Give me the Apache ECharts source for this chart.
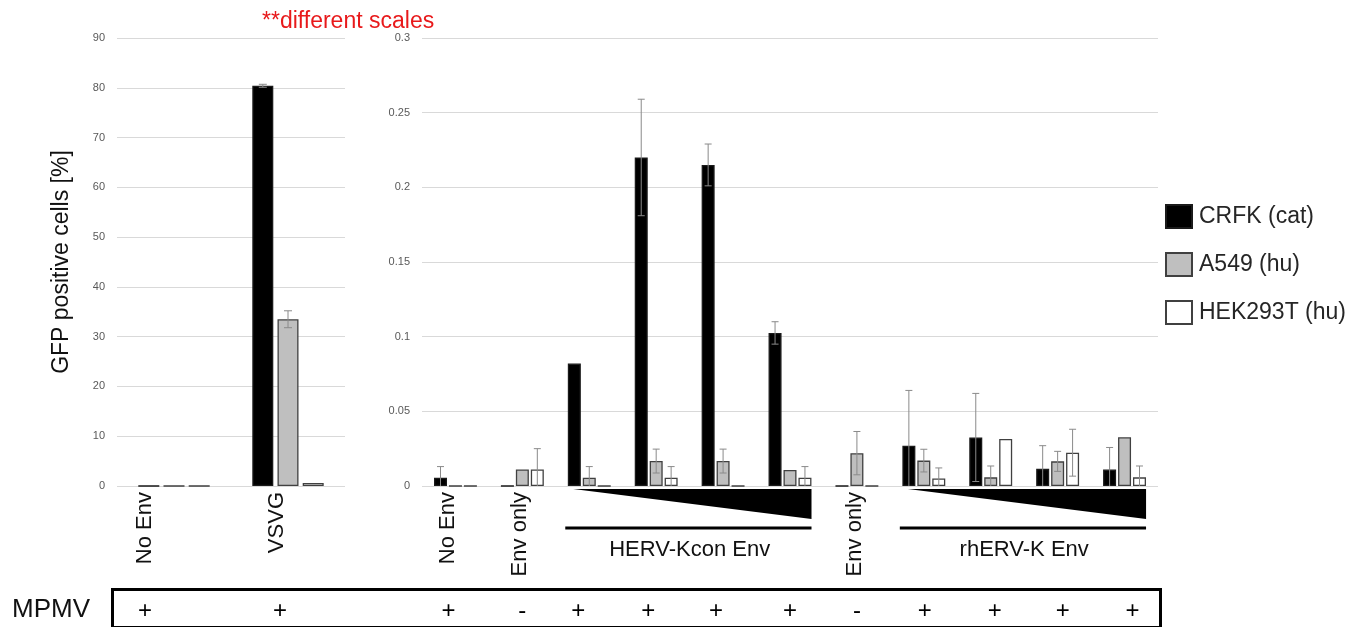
<!DOCTYPE html>
<html>
<head>
<meta charset="utf-8">
<script src="https://cdn.jsdelivr.net/npm/echarts@6/dist/echarts.min.js"></script>
<style>
html,body{margin:0;padding:0;background:#fff;}
#chart{width:1366px;height:627px;}
</style>
</head>
<body>
<div id="chart"></div>
<script>
// ---------- DATA ----------
const seriesNames = ['CRFK (cat)', 'A549 (hu)', 'HEK293T (hu)'];

const leftCategories = ['No Env', 'VSVG'];
const leftCRFK = [0, 80.4];
const leftCRFKErr = [null, 0.3];
const leftA549 = [0, 33.5];
const leftA549Err = [null, 1.7];
const leftHEK = [0, 0.6];
const leftHEKErr = [null, null];
const leftTicks = [0, 90, 10];

const rightCategories = ['No Env', 'Env only', '', '', '', '', 'Env only', '', '', '', ''];
const rightCRFK = [0.0055, 0, 0.082, 0.22, 0.215, 0.1025, 0, 0.027, 0.0325, 0.0115, 0.011];
const rightCRFKErr = [0.0075, null, null, 0.039, 0.014, 0.0075, null, 0.037, 0.0295, 0.0155, 0.0148];
const rightA549 = [0, 0.011, 0.0055, 0.0167, 0.0167, 0.0107, 0.022, 0.017, 0.0058, 0.0165, 0.0326];
const rightA549Err = [null, null, 0.0075, 0.008, 0.008, null, 0.0145, 0.0076, 0.0076, 0.0067, null];
const rightHEK = [0, 0.011, 0, 0.0056, 0, 0.0056, 0, 0.0051, 0.0315, 0.0223, 0.0058];
const rightHEKErr = [null, 0.014, null, 0.0074, null, 0.0074, null, 0.007, null, 0.0157, 0.0076];
const rightTicks = [0, 0.3, 0.05];

const envGroups = [
  {name: 'HERV-Kcon Env', from: 2, to: 5},
  {name: 'rhERV-K Env', from: 7, to: 10}
];

const mpmvLeft = ['+', '+'];
const mpmvRight = ['+', '-', '+', '+', '+', '+', '-', '+', '+', '+', '+'];

// ---------- STYLE ----------
const FONT = 'Liberation Sans, Arial, sans-serif';
const fills = ['#000000', '#bfbfbf', '#ffffff'];
const borders = ['#1a1a1a', '#404040', '#404040'];
const errColor = '#8a8a8a';
// label nudges (px, negative = left) to mimic the original figure's label placement
const leftLabelShift = [-29, -11];
const rightLabelShift = [-8, -2, 0, 0, 0, 0, -2, 0, 0, 0, 0];
const leftSignShift = [-29, -8];
const rightSignShift = [-7, 0, -11, -8, -7, 0, 0, 1, 4, 5, 8];

function signItems(signs, shifts) {
  return signs.map((c, i) => {
    const s = shifts[i] || 0;
    const pad = s < 0 ? [0, -2 * s, 0, 0] : [0, 0, 0, 2 * s];
    return {value: c, textStyle: {padding: pad}};
  });
}

function errData(vals, errs) {
  const out = [];
  vals.forEach((v, i) => {
    if (errs[i] != null) out.push([i, Math.max(0, v - errs[i]), v + errs[i]]);
  });
  return out;
}

function errRender(offset, capHalf) {
  return function (params, api) {
    const idx = api.value(0), lo = api.value(1), hi = api.value(2);
    const pHi = api.coord([idx, hi]);
    const pLo = api.coord([idx, lo]);
    const x = pHi[0] + offset;
    const st = {stroke: errColor, lineWidth: 1};
    const children = [
      {type: 'line', shape: {x1: x, y1: pLo[1], x2: x, y2: pHi[1]}, style: st},
      {type: 'line', shape: {x1: x - capHalf, y1: pHi[1], x2: x + capHalf, y2: pHi[1]}, style: st}
    ];
    if (lo > 0) children.push({type: 'line', shape: {x1: x - capHalf, y1: pLo[1], x2: x + capHalf, y2: pLo[1]}, style: st});
    return {type: 'group', children: children};
  };
}

function buildSeries(xIdx, yIdx, vals, errs, barW, gapPct, capHalf) {
  const out = [];
  const step = barW * (1 + gapPct / 100);
  vals.forEach((v, s) => {
    out.push({
      type: 'bar', name: seriesNames[s], xAxisIndex: xIdx, yAxisIndex: yIdx,
      data: v, barWidth: barW, barGap: gapPct + '%',
      itemStyle: {color: fills[s], borderColor: borders[s], borderWidth: 1.3},
      emphasis: {disabled: true}, z: 2
    });
  });
  vals.forEach((v, s) => {
    out.push({
      type: 'custom', xAxisIndex: xIdx, yAxisIndex: yIdx,
      data: errData(v, errs[s]), encode: {x: 0, y: [1, 2]},
      renderItem: errRender((s - 1) * step, capHalf), z: 5, silent: true
    });
  });
  return out;
}

// rotated category labels, drawn at each category's axis position
function labelSeries(xIdx, yIdx, cats, shifts) {
  return {
    type: 'custom', xAxisIndex: xIdx, yAxisIndex: yIdx, clip: false, silent: true, z: 6,
    data: cats.map((c, i) => [i, 0]), encode: {x: 0, y: 1},
    renderItem: function (params, api) {
      const name = cats[params.dataIndex];
      if (!name) return null;
      const p = api.coord([api.value(0), 0]);
      return {
        type: 'text', x: p[0] + (shifts[params.dataIndex] || 0), y: p[1] + 6, rotation: Math.PI / 2,
        style: {text: name, align: 'right', verticalAlign: 'middle', fontFamily: FONT, fontSize: 22, fill: '#111'}
      };
    }
  };
}

const chart = echarts.init(document.getElementById('chart'), null, {renderer: 'canvas'});

const tickLabel = {fontFamily: FONT, fontSize: 11, color: '#595959', margin: 12};
const split = {show: true, lineStyle: {color: '#d9d9d9', width: 1}};

const series = []
  .concat(buildSeries(0, 0, [leftCRFK, leftA549, leftHEK], [leftCRFKErr, leftA549Err, leftHEKErr], 21, 20, 4))
  .concat(buildSeries(2, 1, [rightCRFK, rightA549, rightHEK], [rightCRFKErr, rightA549Err, rightHEKErr], 13, 15, 3.5));

series.push(labelSeries(0, 0, leftCategories, leftLabelShift));
series.push(labelSeries(2, 1, rightCategories, rightLabelShift));

series.push({
  type: 'custom', xAxisIndex: 2, yAxisIndex: 1, clip: false, silent: true, z: 6,
  data: envGroups.map(g => [g.from, g.to, 0]), encode: {x: [0, 1], y: 2},
  renderItem: function (params, api) {
    const a = api.coord([api.value(0), 0]);
    const b = api.coord([api.value(1), 0]);
    const y0 = a[1];
    const xl = a[0] - 16, xr = b[0] + 21.5;
    return {type: 'group', children: [
      {type: 'polygon', shape: {points: [[xl, y0 + 3], [xr, y0 + 3], [xr, y0 + 33]]}, style: {fill: '#000'}},
      {type: 'line', shape: {x1: a[0] - 24, y1: y0 + 42, x2: b[0] + 21.5, y2: y0 + 42}, style: {stroke: '#000', lineWidth: 3}},
      {type: 'text', style: {text: envGroups[params.dataIndex].name, x: (a[0] + b[0]) / 2, y: y0 + 64,
        align: 'center', verticalAlign: 'middle', fontFamily: FONT, fontSize: 22, fill: '#111'}}
    ]};
  }
});

const catAxisBase = {axisLine: {show: false}, axisTick: {show: false}};

const option = {
  animation: false,
  backgroundColor: '#ffffff',
  title: {
    text: '**different scales', left: 262, top: 10, padding: 0,
    textStyle: {color: '#e8191b', fontFamily: FONT, fontSize: 23, fontWeight: 'normal'}
  },
  legend: {
    data: seriesNames, orient: 'vertical', left: 1165, top: 204, padding: 0,
    itemWidth: 26, itemHeight: 23, itemGap: 23, icon: 'rect',
    textStyle: {fontFamily: FONT, fontSize: 23, color: '#262626', padding: [0, 0, 0, 2]}
  },
  grid: [
    {left: 117, top: 38, width: 228, height: 448, containLabel: false, outerBoundsMode: 'none'},
    {left: 422, top: 38, width: 736, height: 448, containLabel: false, outerBoundsMode: 'none'}
  ],
  xAxis: [
    Object.assign({type: 'category', gridIndex: 0, data: leftCategories, axisLabel: {show: false}}, catAxisBase),
    Object.assign({type: 'category', gridIndex: 0, position: 'bottom', offset: 101, data: signItems(mpmvLeft, leftSignShift),
      axisLabel: {margin: 12, fontFamily: FONT, fontSize: 24, color: '#000', interval: 0}}, catAxisBase),
    Object.assign({type: 'category', gridIndex: 1, data: rightCategories, axisLabel: {show: false}}, catAxisBase),
    Object.assign({type: 'category', gridIndex: 1, position: 'bottom', offset: 101, data: signItems(mpmvRight, rightSignShift),
      axisLabel: {margin: 12, fontFamily: FONT, fontSize: 24, color: '#000', interval: 0}}, catAxisBase)
  ],
  yAxis: [
    {type: 'value', gridIndex: 0, min: leftTicks[0], max: leftTicks[1], interval: leftTicks[2],
      axisLine: {show: false}, axisTick: {show: false}, axisLabel: tickLabel, splitLine: split,
      name: 'GFP positive cells [%]', nameLocation: 'middle', nameRotate: 90, nameGap: 44,
      nameTextStyle: {fontFamily: FONT, fontSize: 23, color: '#111'}},
    {type: 'value', gridIndex: 1, min: rightTicks[0], max: rightTicks[1], interval: rightTicks[2],
      axisLine: {show: false}, axisTick: {show: false}, axisLabel: tickLabel, splitLine: split}
  ],
  series: series,
  graphic: [
    {type: 'rect', left: 110, top: 587, shape: {width: 1048, height: 38},
      style: {fill: 'none', stroke: '#000', lineWidth: 3}, silent: true},
    {type: 'text', left: 12, top: 597, style: {text: 'MPMV', fontFamily: FONT, fontSize: 26, fill: '#111'}}
  ]
};
chart.setOption(option);
</script>
</body>
</html>
